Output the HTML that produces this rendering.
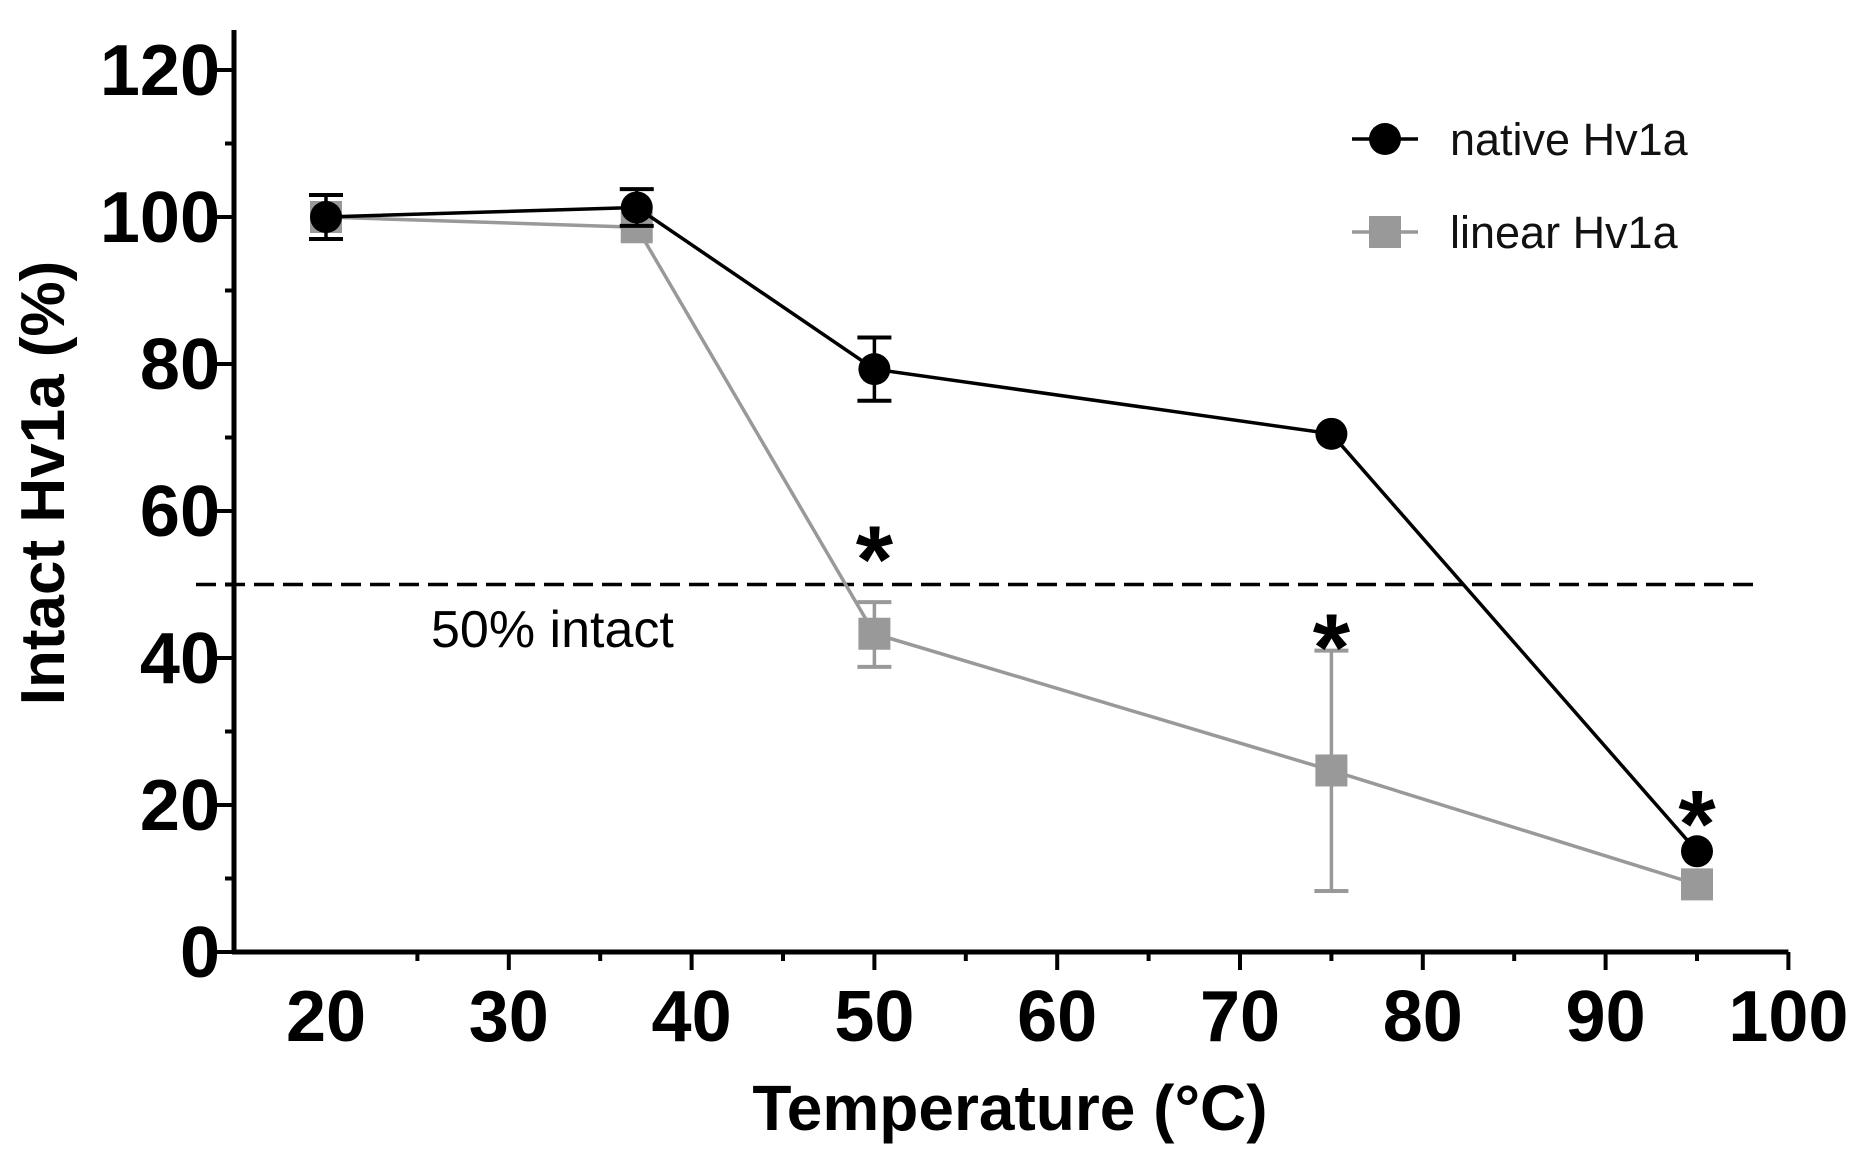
<!DOCTYPE html>
<html><head><meta charset="utf-8"><style>
html,body{margin:0;padding:0;background:#fff;}
svg{display:block;font-family:"Liberation Sans",Arial,sans-serif;}
</style></head><body>
<svg id="chart" width="1862" height="1168" viewBox="0 0 1862 1168">
<g id="axes"></g>
<g id="marks"></g>
<text x="64" y="483" transform="rotate(-90 64 483)" text-anchor="middle" font-size="62" font-weight="bold" fill="#000">Intact Hv1a (%)</text>
<text x="1010" y="1130" text-anchor="middle" font-size="64" font-weight="bold" fill="#000">Temperature (°C)</text>
<text x="431" y="647" font-size="52" fill="#000">50% intact</text>
<g>
<g>
<line x1="1352" y1="139" x2="1418" y2="139" stroke="#000" stroke-width="3.5"/>
<circle cx="1385" cy="139" r="16" fill="#000"/>
<text x="1450" y="155" font-size="45" fill="#111">native Hv1a</text>
</g>
<g>
<line x1="1352" y1="232" x2="1418" y2="232" stroke="#999" stroke-width="3.5"/>
<rect x="1369" y="216" width="32" height="32" fill="#999"/>
<text x="1450" y="248" font-size="45" fill="#111">linear Hv1a</text>
</g>
</g>
</svg>
<script>
const temps = [20, 37, 50, 75, 95];
const nativeVals = [100, 101.3, 79.3, 70.5, 13.7];
const nativeErr = [3, 2.5, 4.3, 0, 0];
const linearVals = [100, 98.6, 43.3, 24.7, 9.2];
const linearErrUp = [0, 0, 4.3, 16.3, 0];
const linearErrDown = [0, 0, 4.5, 16.4, 0];
const starTemps = [50, 75, 95];
const starVals = [53, 41, 17];
const yTicks = [0, 20, 40, 60, 80, 100, 120];
const xTicks = [20, 30, 40, 50, 60, 70, 80, 90, 100];
const threshold = 50;

const NS = 'http://www.w3.org/2000/svg';
const X0 = 234, Y0 = 952;
function sx(t){ return 326 + (t - 20) * 18.28; }
function sy(v){ return Y0 - v * 7.35; }
function mk(tag, attrs, parent){
  const e = document.createElementNS(NS, tag);
  for (const k in attrs) e.setAttribute(k, attrs[k]);
  parent.appendChild(e); return e;
}
const axes = document.getElementById('axes');
const marks = document.getElementById('marks');

let yAxis = mk('line', {x1:X0, y1:30, x2:X0, y2:Y0+2, stroke:'#000', 'stroke-width':5}, axes);


let xAxis = mk('line', {x1:X0-2, y1:Y0, x2:sx(100), y2:Y0, stroke:'#000', 'stroke-width':5}, axes);



for (let v = 0; v <= 120; v += 10) {
  const major = v % 20 === 0;
  mk('line', {x1:X0 - (major ? 17 : 9), y1:sy(v), x2:X0, y2:sy(v), stroke:'#000', 'stroke-width':4}, axes);
}
yTicks.forEach(v => {
  const t = mk('text', {x:X0 - 14, y:sy(v) + 25, 'text-anchor':'end', 'font-size':72, 'font-weight':'bold', fill:'#000'}, axes);
  t.textContent = v;
  
  
});
for (let t = 25; t <= 100; t += 5) {
  const major = t % 10 === 0;
  mk('line', {x1:sx(t), y1:Y0, x2:sx(t), y2:Y0 + (major ? 18 : 9), stroke:'#000', 'stroke-width':4}, axes);
}
xTicks.forEach(t => {
  const e = mk('text', {x:sx(t), y:1041, 'text-anchor':'middle', 'font-size':72, 'font-weight':'bold', fill:'#000'}, axes);
  e.textContent = t;
  
  
});

const th = mk('line', {x1:196, y1:sy(threshold), x2:1755, y2:sy(threshold), stroke:'#000', 'stroke-width':3.5, 'stroke-dasharray':'20 9'}, marks);



function errBar(x, top, bot, color){
  if (top === bot) return;
  mk('line', {x1:x, y1:top, x2:x, y2:bot, stroke:color, 'stroke-width':3.5}, marks);
  mk('line', {x1:x-17, y1:top, x2:x+17, y2:top, stroke:color, 'stroke-width':4}, marks);
  mk('line', {x1:x-17, y1:bot, x2:x+17, y2:bot, stroke:color, 'stroke-width':4}, marks);
}
const lp = mk('polyline', {points: temps.map((t,i)=>sx(t)+','+sy(linearVals[i])).join(' '), fill:'none', stroke:'#999', 'stroke-width':3.5}, marks);


temps.forEach((t,i) => {
  errBar(sx(t), sy(linearVals[i] + linearErrUp[i]), sy(linearVals[i] - linearErrDown[i]), '#999');
  const r = mk('rect', {x:sx(t)-16, y:sy(linearVals[i])-16, width:32, height:32, fill:'#999'}, marks);
  
  
});
const np = mk('polyline', {points: temps.map((t,i)=>sx(t)+','+sy(nativeVals[i])).join(' '), fill:'none', stroke:'#000', 'stroke-width':3.5}, marks);


temps.forEach((t,i) => {
  errBar(sx(t), sy(nativeVals[i] + nativeErr[i]), sy(nativeVals[i] - nativeErr[i]), '#000');
  const c = mk('circle', {cx:sx(t), cy:sy(nativeVals[i]), r:16, fill:'#000'}, marks);
  
  
});
starTemps.forEach((t,i) => {
  const s = mk('text', {x:sx(t), y:sy(starVals[i]) + 30, 'text-anchor':'middle', 'font-size':96, 'font-weight':'bold', fill:'#000'}, marks);
  s.textContent = '*';
  
  
});
</script>
</body></html>
